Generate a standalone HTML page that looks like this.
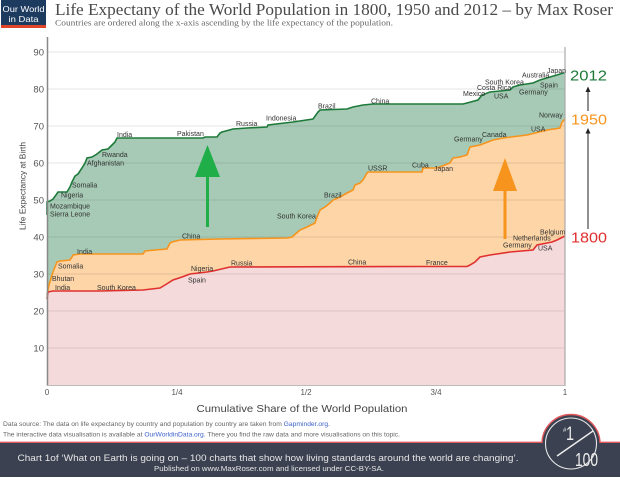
<!DOCTYPE html>
<html><head><meta charset="utf-8"><style>
html,body{margin:0;padding:0;background:#fff;}
svg{display:block;}
text{font-family:"Liberation Sans",Arial,sans-serif;}
.lb{font-size:7px;fill:#333;}
</style></head><body>
<svg width="620" height="480" viewBox="0 0 620 480" xmlns="http://www.w3.org/2000/svg">
<rect x="0" y="0" width="620" height="480" fill="#fff"/>
<!-- logo -->
<rect x="1" y="0" width="45" height="28" fill="#1d3a5f"/>
<rect x="1" y="25" width="45" height="3" fill="#e0452a"/>
<text x="23.5" y="12" font-size="8.5" fill="#fff" text-anchor="middle" textLength="42" lengthAdjust="spacingAndGlyphs">Our World</text>
<text x="23.5" y="22" font-size="8.5" fill="#fff" text-anchor="middle" textLength="30" lengthAdjust="spacingAndGlyphs">in Data</text>
<!-- title -->
<text x="55" y="15" font-size="16.5" fill="#4a4a4a" style="font-family:'Liberation Serif',serif" textLength="558" lengthAdjust="spacingAndGlyphs">Life Expectany of the World Population in 1800, 1950 and 2012 – by Max Roser</text>
<text x="55" y="25.5" font-size="8.5" fill="#666" style="font-family:'Liberation Serif',serif" textLength="338" lengthAdjust="spacingAndGlyphs">Countries are ordered along the x-axis ascending by the life expectancy of the population.</text>

<!-- fills -->
<polygon fill="#a6cab5" points="47,215 47,202 50,201 53,199 56,195 58,192 67,192 70,187 72,182 75,176 78,174 82,168 85,163 87,158 92,157 97,154 102,150 108,149 112,145 115,142 117,138 203,138 205,137 217,137 220,133 222,132 233,129 247,128 267,127 268,125 293,122 313,119 318,112 320,110 347,109 353,107 363,105 373,104 463,104 467,103 478,100 482,95 490,92 500,91 510,90 513,87 520,85 533,83 540,80 550,77 557,75 563,73 565,73 565,385 47,385"/>
<polygon fill="#fdd5a6" points="47,295 48,290 49,285 52,275 53,272 55,267 57,262 60,261 70,260 72,257 73,255 80,254 143,254 145,251 155,250 167,249 170,243 172,242 180,240 220,239 287,238 292,237 300,230 307,227 315,223 317,217 320,210 325,207 330,203 333,200 340,197 347,193 353,190 355,185 360,183 363,180 367,173 368,172 422,172 423,168 437,168 450,163 453,158 460,157 467,155 470,147 480,145 493,140 503,138 527,135 547,130 560,128 562,122 565,119 565,385 47,385"/>
<polygon fill="#f5dadb" points="47,299 48,292 53,291 100,291 143,290 160,288 165,285 173,280 182,277 190,274 207,272 213,271 230,267 420,266.5 467,266.5 470,265 475,262 480,257 490,255 510,252 533,250 537,245 547,243 552,242 557,240 563,237 565,236 565,385 47,385"/>

<!-- gridlines -->
<g stroke="#000" stroke-opacity="0.1" stroke-width="1">
<line x1="47" y1="52" x2="565" y2="52"/>
<line x1="47" y1="89" x2="565" y2="89"/>
<line x1="47" y1="126" x2="565" y2="126"/>
<line x1="47" y1="163" x2="565" y2="163"/>
<line x1="47" y1="200" x2="565" y2="200"/>
<line x1="47" y1="237" x2="565" y2="237"/>
<line x1="47" y1="274" x2="565" y2="274"/>
<line x1="47" y1="311" x2="565" y2="311"/>
<line x1="47" y1="348" x2="565" y2="348"/>
</g>

<!-- lines -->
<polyline fill="none" stroke="#1e7a3a" stroke-width="1.6" points="47,215 47,202 50,201 53,199 56,195 58,192 67,192 70,187 72,182 75,176 78,174 82,168 85,163 87,158 92,157 97,154 102,150 108,149 112,145 115,142 117,138 203,138 205,137 217,137 220,133 222,132 233,129 247,128 267,127 268,125 293,122 313,119 318,112 320,110 347,109 353,107 363,105 373,104 463,104 467,103 478,100 482,95 490,92 500,91 510,90 513,87 520,85 533,83 540,80 550,77 557,75 563,73 565,73"/>
<polyline fill="none" stroke="#f7941d" stroke-width="1.6" points="47,295 48,290 49,285 52,275 53,272 55,267 57,262 60,261 70,260 72,257 73,255 80,254 143,254 145,251 155,250 167,249 170,243 172,242 180,240 220,239 287,238 292,237 300,230 307,227 315,223 317,217 320,210 325,207 330,203 333,200 340,197 347,193 353,190 355,185 360,183 363,180 367,173 368,172 422,172 423,168 437,168 450,163 453,158 460,157 467,155 470,147 480,145 493,140 503,138 527,135 547,130 560,128 562,122 565,119"/>
<polyline fill="none" stroke="#e0302e" stroke-width="1.6" points="47,299 48,292 53,291 100,291 143,290 160,288 165,285 173,280 182,277 190,274 207,272 213,271 230,267 420,266.5 467,266.5 470,265 475,262 480,257 490,255 510,252 533,250 537,245 547,243 552,242 557,240 563,237 565,236"/>

<!-- axes -->
<line x1="47.5" y1="37" x2="47.5" y2="386" stroke="#888" stroke-width="1.5"/>
<line x1="565" y1="47" x2="565" y2="386" stroke="#aaa" stroke-width="1.2"/>
<line x1="47" y1="385.5" x2="565" y2="385.5" stroke="#bbb" stroke-width="1"/>

<!-- y ticks -->
<g font-size="9.5" fill="#555" text-anchor="end">
<text x="44" y="55.5">90</text>
<text x="44" y="92.5">80</text>
<text x="44" y="129.5">70</text>
<text x="44" y="166.5">60</text>
<text x="44" y="203.5">50</text>
<text x="44" y="240.5">40</text>
<text x="44" y="277.5">30</text>
<text x="44" y="314.5">20</text>
<text x="44" y="351.5">10</text>
</g>
<text transform="translate(25.5,186) rotate(-90)" font-size="8" fill="#444" text-anchor="middle" textLength="88" lengthAdjust="spacingAndGlyphs">Life Expectancy at Birth</text>

<!-- x ticks -->
<g font-size="8" fill="#555" text-anchor="middle">
<text x="47" y="395">0</text>
<text x="177" y="395">1/4</text>
<text x="306" y="395">1/2</text>
<text x="436" y="395">3/4</text>
<text x="565" y="395">1</text>
</g>
<text x="302" y="412" font-size="10.5" fill="#444" text-anchor="middle" textLength="211" lengthAdjust="spacingAndGlyphs">Cumulative Share of the World Population</text>

<!-- labels 2012 -->
<g class="lb">
<text x="117" y="137" class="lb">India</text>
<text x="177" y="136" class="lb">Pakistan</text>
<text x="102" y="157" class="lb">Rwanda</text>
<text x="87" y="165.5" class="lb">Afghanistan</text>
<text x="72" y="187.5" class="lb">Somalia</text>
<text x="61" y="197.5" class="lb">Nigeria</text>
<text x="50" y="208.5" class="lb">Mozambique</text>
<text x="50" y="216.5" class="lb">Sierra Leone</text>
<text x="236" y="126" class="lb">Russia</text>
<text x="266" y="120.5" class="lb">Indonesia</text>
<text x="318" y="108.5" class="lb">Brazil</text>
<text x="371" y="103.5" class="lb">China</text>
<text x="463" y="96" class="lb">Mexico</text>
<text x="477" y="90" class="lb">Costa Rica</text>
<text x="485" y="84.5" class="lb">South Korea</text>
<text x="494" y="98.5" class="lb">USA</text>
<text x="519" y="94.5" class="lb">Germany</text>
<text x="540" y="87.5" class="lb">Spain</text>
<text x="522" y="77.5" class="lb">Australia</text>
<text x="547" y="73" class="lb">Japan</text>
<!-- 1950 -->
<text x="58" y="268.5" class="lb">Somalia</text>
<text x="77" y="254" class="lb">India</text>
<text x="52" y="281" class="lb">Bhutan</text>
<text x="182" y="238.5" class="lb">China</text>
<text x="277" y="218.5" class="lb">South Korea</text>
<text x="324" y="197.5" class="lb">Brazil</text>
<text x="368" y="170.5" class="lb">USSR</text>
<text x="412" y="167.5" class="lb">Cuba</text>
<text x="434" y="171" class="lb">Japan</text>
<text x="454" y="141.5" class="lb">Germany</text>
<text x="482" y="137" class="lb">Canada</text>
<text x="531" y="131.5" class="lb">USA</text>
<text x="539" y="117.5" class="lb">Norway</text>
<!-- 1800 -->
<text x="55" y="290" class="lb">India</text>
<text x="97" y="290" class="lb">South Korea</text>
<text x="191" y="271" class="lb">Nigeria</text>
<text x="188" y="282.5" class="lb">Spain</text>
<text x="231" y="265.5" class="lb">Russia</text>
<text x="348" y="264.5" class="lb">China</text>
<text x="426" y="265" class="lb">France</text>
<text x="503" y="247.5" class="lb">Germany</text>
<text x="513" y="240.5" class="lb">Netherlands</text>
<text x="540" y="234.5" class="lb">Belgium</text>
<text x="538" y="250.5" class="lb">USA</text>
</g>

<!-- big arrows -->
<line x1="207.5" y1="175" x2="207.5" y2="227" stroke="#1fae48" stroke-width="3"/>
<polygon points="207.5,145 195,177 220,177" fill="#1fae48"/>
<line x1="505" y1="189" x2="505" y2="239" stroke="#f7941d" stroke-width="3"/>
<polygon points="505,158 493,191 517,191" fill="#f7941d"/>

<!-- year labels -->
<text x="570" y="80.5" font-size="15" fill="#1e7a3a" textLength="37" lengthAdjust="spacingAndGlyphs">2012</text>
<text x="571" y="124.5" font-size="15" fill="#f7941d" textLength="36" lengthAdjust="spacingAndGlyphs">1950</text>
<text x="571" y="242.5" font-size="15" fill="#e0302e" textLength="36" lengthAdjust="spacingAndGlyphs">1800</text>
<line x1="588" y1="88" x2="588" y2="111" stroke="#222" stroke-width="1"/>
<polygon points="588,86.5 585.5,92 590.5,92" fill="#222"/>
<line x1="588" y1="130" x2="588" y2="229" stroke="#222" stroke-width="1"/>
<polygon points="588,128 585.5,133.5 590.5,133.5" fill="#222"/>

<!-- footer text -->
<text x="3" y="426" font-size="6" fill="#666" textLength="327" lengthAdjust="spacingAndGlyphs">Data source:  The data on life expectancy by country and population by country are taken from <tspan fill="#3a5fcd">Gapminder.org</tspan>.</text>
<text x="3" y="436.5" font-size="6" fill="#666" textLength="397" lengthAdjust="spacingAndGlyphs">The interactive data visualisation is available at <tspan fill="#3a5fcd">OurWorldinData.org</tspan>. There you find the raw data and more visualisations on this topic.</text>

<!-- band -->
<rect x="0" y="442" width="620" height="35" fill="#3b4150"/>
<line x1="0" y1="442.3" x2="620" y2="442.3" stroke="#e0585a" stroke-width="1.4"/>
<circle cx="571" cy="443.5" r="29" fill="#3b4150" stroke="#e0585a" stroke-width="1.4"/>
<rect x="541" y="443" width="60" height="34" fill="#3b4150"/>
<circle cx="571" cy="443.5" r="25.5" fill="none" stroke="#e8e8e8" stroke-width="1.1"/>
<text x="563" y="432" font-size="6" fill="#eee">#</text>
<text x="566" y="440" font-size="19" fill="#eee" textLength="8" lengthAdjust="spacingAndGlyphs">1</text>
<line x1="557" y1="456" x2="593" y2="431" stroke="#eee" stroke-width="1.4"/>
<text x="575" y="466" font-size="18" fill="#eee" textLength="23" lengthAdjust="spacingAndGlyphs">100</text>
<text x="268" y="461" font-size="9.5" fill="#e6e6e6" text-anchor="middle" textLength="501" lengthAdjust="spacingAndGlyphs">Chart 1of ‘What on Earth is going on – 100 charts that show how living standards around the world are changing’.</text>
<text x="269" y="471" font-size="7.5" fill="#e6e6e6" text-anchor="middle" textLength="230" lengthAdjust="spacingAndGlyphs">Published on www.MaxRoser.com and licensed under CC-BY-SA.</text>
</svg>
</body></html>
